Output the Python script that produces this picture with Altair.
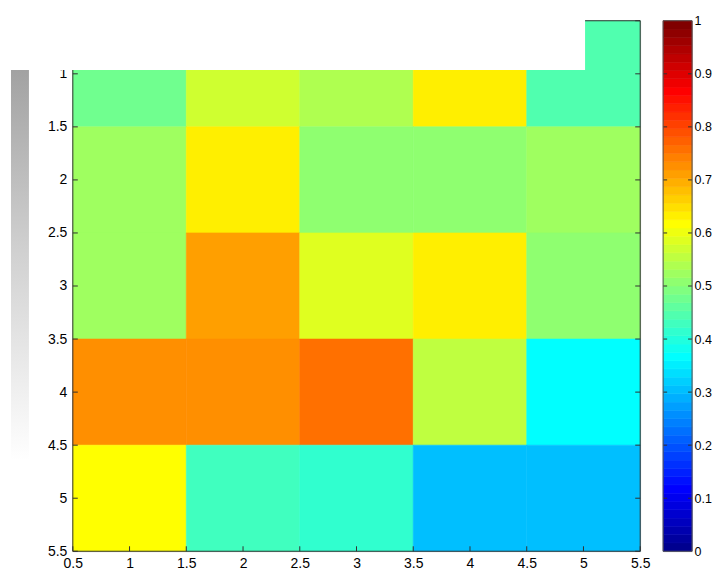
import math
import altair as alt
import pandas as pd

# ---- data ----
rows = [1, 2, 3, 4, 5]
cols = [1, 2, 3, 4, 5]
values = [
    [0.477, 0.570, 0.539, 0.633, 0.445],
    [0.523, 0.633, 0.508, 0.508, 0.523],
    [0.523, 0.711, 0.586, 0.633, 0.508],
    [0.727, 0.727, 0.758, 0.555, 0.367],
    [0.617, 0.430, 0.414, 0.305, 0.305],
]
axis_ticks = [0.5, 1, 1.5, 2, 2.5, 3, 3.5, 4, 4.5, 5, 5.5]
cbar_labels = [0, 0.1, 0.2, 0.3, 0.4, 0.5, 0.6, 0.7, 0.8, 0.9, 1]
cbar_inner = [0.1, 0.2, 0.3, 0.4, 0.5, 0.6, 0.7, 0.8, 0.9]
n_levels = 64


# ---- MATLAB jet colormap ----
def jet(m=64):
    n = math.ceil(m / 4)
    u = [i / n for i in range(1, n + 1)] + [1.0] * (n - 1) + [i / n for i in range(n, 0, -1)]
    g0 = math.ceil(n / 2) - (1 if m % 4 == 1 else 0)
    g = [g0 + i for i in range(1, len(u) + 1)]
    r = [gi + n for gi in g]
    b = [gi - n for gi in g]
    J = [[0.0, 0.0, 0.0] for _ in range(m)]
    for idx, val in zip(r, u):
        if 1 <= idx <= m:
            J[idx - 1][0] = val
    for idx, val in zip(g, u):
        if 1 <= idx <= m:
            J[idx - 1][1] = val
    for idx, val in zip(b, u):
        if 1 <= idx <= m:
            J[idx - 1][2] = val
    return ["#%02x%02x%02x" % tuple(int(round(c * 255)) for c in rgb) for rgb in J]


jet64 = jet(n_levels)

FONT = "Liberation Sans"
FS = 14
W, H = 569, 532
CBW = 29
LINE = "#303030"

recs = []
for ri, r in enumerate(rows):
    for ci, c in enumerate(cols):
        recs.append({"x0": c - 0.5, "x1": c + 0.5, "y0": r - 0.5, "y1": r + 0.5, "v": values[ri][ci]})
df = pd.DataFrame(recs)
ticks_df = pd.DataFrame({"t": axis_ticks})
one = pd.DataFrame({"a": [0]})

cscale = alt.Scale(type="quantize", domain=[0, 1], range=jet64)
xscale = alt.Scale(domain=[0.5, 5.5], nice=False, zero=False)
yscale = alt.Scale(domain=[0.5, 5.5], nice=False, zero=False, reverse=True)

common_axis = dict(
    values=axis_ticks, format="~g", ticks=False, domain=False, grid=False, title=None,
    labelFont=FONT, labelFontSize=FS, labelColor="black", labelFlush=False, labelOverlap=False,
)

heat = alt.Chart(df).mark_rect(strokeWidth=0.6).encode(
    x=alt.X("x0:Q", scale=xscale, axis=alt.Axis(labelPadding=5, labelAngle=0, **common_axis)),
    x2="x1:Q",
    y=alt.Y("y0:Q", scale=yscale, axis=alt.Axis(labelPadding=6, **common_axis)),
    y2="y1:Q",
    color=alt.Color("v:Q", scale=cscale, legend=None),
    stroke=alt.Stroke("v:Q", scale=cscale, legend=None),
)

tick_bottom = alt.Chart(ticks_df).mark_rule(color=LINE).encode(
    x=alt.X("t:Q"), y=alt.value(H), y2=alt.value(H - 5))
tick_left = alt.Chart(ticks_df).mark_rule(color=LINE).encode(
    y=alt.Y("t:Q"), x=alt.value(0), x2=alt.value(5))
tick_right = alt.Chart(ticks_df).mark_rule(color=LINE).encode(
    y=alt.Y("t:Q"), x=alt.value(W), x2=alt.value(W - 5))
frame = alt.Chart(one).mark_rect(fill=None, stroke=LINE, strokeWidth=1).encode(
    x=alt.value(0), x2=alt.value(W), y=alt.value(0), y2=alt.value(H))

# white cover over the top band (as in the reference screenshot)
cover = alt.Chart(one).mark_rect(fill="white", stroke=None).encode(
    x=alt.value(-64), x2=alt.value(513.7), y=alt.value(-11), y2=alt.value(49.5))
# grey fading strip at the far left
strip = alt.Chart(one).mark_rect(
    color=alt.Gradient(gradient="linear", x1=0, x2=0, y1=0, y2=1,
                       stops=[alt.GradientStop(color="#a2a2a2", offset=0),
                              alt.GradientStop(color="#cfcfcf", offset=0.45),
                              alt.GradientStop(color="#ffffff", offset=1)])
).encode(x=alt.value(-62), x2=alt.value(-44), y=alt.value(49.5), y2=alt.value(441))

main = alt.layer(heat, tick_bottom, tick_left, tick_right, frame, cover, strip).properties(width=W, height=H)

# ---- colorbar ----
cb_df = pd.DataFrame({
    "y0": [i / n_levels for i in range(n_levels)],
    "y1": [(i + 1) / n_levels for i in range(n_levels)],
    "v": [(i + 0.5) / n_levels for i in range(n_levels)],
})
cb_scale = alt.Scale(domain=[0, 1], nice=False, zero=False)
cb_rect = alt.Chart(cb_df).mark_rect(strokeWidth=0.6).encode(
    x=alt.value(0), x2=alt.value(CBW),
    y=alt.Y("y0:Q", scale=cb_scale, axis=alt.Axis(
        orient="right", values=cbar_labels, format="~g", ticks=False, domain=False, grid=False,
        title=None, labelFont=FONT, labelFontSize=12.5, labelColor="black", labelPadding=2,
        labelFlush=False, labelOverlap=False)),
    y2="y1:Q",
    color=alt.Color("v:Q", scale=cscale, legend=None),
    stroke=alt.Stroke("v:Q", scale=cscale, legend=None),
)
cb_ticks_df = pd.DataFrame({"t": cbar_inner})
cb_tl = alt.Chart(cb_ticks_df).mark_rule(color=LINE).encode(
    y=alt.Y("t:Q"), x=alt.value(0), x2=alt.value(4))
cb_tr = alt.Chart(cb_ticks_df).mark_rule(color=LINE).encode(
    y=alt.Y("t:Q"), x=alt.value(CBW), x2=alt.value(CBW - 4))
cb_frame = alt.Chart(one).mark_rect(fill=None, stroke="#505050", strokeWidth=1).encode(
    x=alt.value(0), x2=alt.value(CBW), y=alt.value(0), y2=alt.value(H))
cbar = alt.layer(cb_rect, cb_tl, cb_tr, cb_frame).properties(width=CBW, height=H)

chart = alt.hconcat(main, cbar, spacing=23, bounds="flush").resolve_scale(
    x="independent", y="independent", color="independent", stroke="independent"
).properties(padding={"left": 0, "top": 0, "right": 0, "bottom": 0}).configure_view(stroke=None).configure(background="white")

chart.save("out.html", embed_options={"renderer": "svg", "actions": False})
